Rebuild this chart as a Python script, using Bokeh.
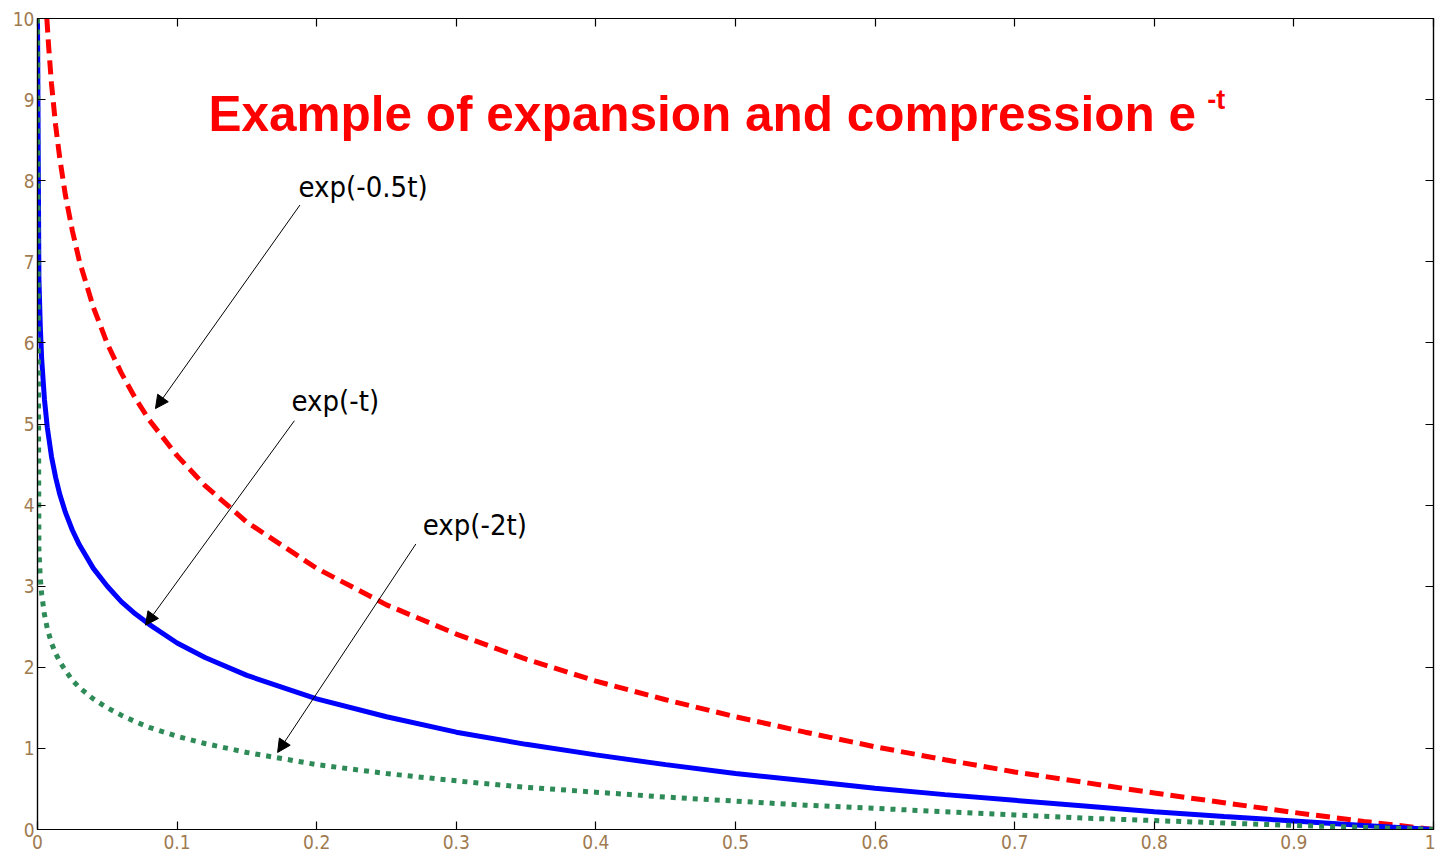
from bokeh.plotting import figure
from bokeh.models import LinearAxis, Range1d, FixedTicker, Arrow, NormalHead, CustomJSTickFormatter
from bokeh.core.properties import value
from bokeh.embed import file_html
from bokeh.resources import INLINE

# ---- data ----
x_red = [0.0067, 0.008, 0.01, 0.013, 0.016, 0.02, 0.025, 0.03, 0.04, 0.05, 0.06, 0.07, 0.08,
         0.1, 0.12, 0.15, 0.2, 0.25, 0.3, 0.35, 0.4, 0.45, 0.5, 0.55, 0.6, 0.65, 0.7, 0.75,
         0.8, 0.85, 0.9, 0.95, 1.0]
y_red = [10.0, 9.65, 9.2, 8.68, 8.27, 7.82, 7.38, 7.01, 6.44, 5.99, 5.63, 5.32, 5.05,
         4.61, 4.24, 3.79, 3.22, 2.77, 2.41, 2.10, 1.83, 1.60, 1.39, 1.20, 1.02, 0.86,
         0.71, 0.58, 0.45, 0.33, 0.21, 0.10, 0.0]

x_blue = [0.0, 0.001, 0.002, 0.003, 0.005, 0.007, 0.01, 0.013, 0.016, 0.02, 0.025, 0.03, 0.04,
          0.05, 0.06, 0.07, 0.08, 0.1, 0.12, 0.15, 0.2, 0.25, 0.3, 0.35, 0.4, 0.45, 0.5,
          0.55, 0.6, 0.65, 0.7, 0.75, 0.8, 0.85, 0.9, 0.95, 1.0]
y_blue = [10.0, 6.8, 6.2, 5.8, 5.3, 4.96, 4.6, 4.34, 4.13, 3.91, 3.69, 3.51, 3.22,
          3.0, 2.81, 2.66, 2.53, 2.30, 2.12, 1.90, 1.61, 1.39, 1.20, 1.05, 0.92, 0.80, 0.69,
          0.60, 0.51, 0.43, 0.36, 0.29, 0.22, 0.16, 0.105, 0.05, 0.0]

x_green = x_blue
y_green = [10.0, 3.45, 3.1, 2.9, 2.65, 2.48, 2.3, 2.17, 2.07, 1.96, 1.84, 1.75, 1.61,
           1.5, 1.41, 1.33, 1.26, 1.15, 1.06, 0.95, 0.80, 0.69, 0.60, 0.52, 0.46, 0.40, 0.35,
           0.30, 0.26, 0.22, 0.18, 0.14, 0.11, 0.08, 0.05, 0.026, 0.0]

x_ticks = [0, 0.1, 0.2, 0.3, 0.4, 0.5, 0.6, 0.7, 0.8, 0.9, 1]
x_tick_labels = ["0", "0.1", "0.2", "0.3", "0.4", "0.5", "0.6", "0.7", "0.8", "0.9", "1"]
y_ticks = [0, 1, 2, 3, 4, 5, 6, 7, 8, 9, 10]

title_text = "Example of expansion and compression e"
title_sup = "-t"
labels = ["exp(-0.5t)", "exp(-t)", "exp(-2t)"]
label_x = [0.187, 0.182, 0.276]
label_y = [7.92, 5.28, 3.75]
arrow_x0 = [0.188, 0.184, 0.271]
arrow_y0 = [7.7, 5.04, 3.52]
arrow_x1 = [0.0845, 0.0774, 0.172]
arrow_y1 = [5.19, 2.52, 0.95]

NARROW = "DejaVu Sans Condensed"

# ---- figure ----
p = figure(width=1435, height=856, output_backend="svg", toolbar_location=None,
           x_range=Range1d(0, 1), y_range=Range1d(0, 10),
           x_axis_location=None, y_axis_location=None,
           min_border_left=37, min_border_right=2, min_border_top=18, min_border_bottom=27)
p.background_fill_color = "white"
p.border_fill_color = "white"
p.outline_line_color = "black"
p.outline_line_width = 1.2
p.xgrid.visible = False
p.ygrid.visible = False

tick_color = "#a07a50"

def styl(ax, show_labels):
    ax.axis_line_color = "black"
    ax.axis_line_width = 1.2
    ax.major_tick_in = 8
    ax.major_tick_out = 0
    ax.major_tick_line_color = "black"
    ax.major_tick_line_width = 1.2
    ax.minor_tick_line_color = None
    ax.major_label_text_font = NARROW
    ax.major_label_text_font_size = "19px" if show_labels else "0px"
    ax.major_label_text_color = tick_color
    if not show_labels:
        ax.major_label_text_alpha = 0

xb = LinearAxis(ticker=FixedTicker(ticks=x_ticks),
                major_label_overrides={t: l for t, l in zip(x_ticks, x_tick_labels)})
styl(xb, True)
xb.major_label_standoff = 5
p.add_layout(xb, "below")

yl = LinearAxis(ticker=FixedTicker(ticks=y_ticks))
styl(yl, True)
yl.major_label_standoff = 3
p.add_layout(yl, "left")

xt = LinearAxis(ticker=FixedTicker(ticks=x_ticks),
                formatter=CustomJSTickFormatter(code="return ''"))
styl(xt, False)
p.add_layout(xt, "above")

yr = LinearAxis(ticker=FixedTicker(ticks=y_ticks),
                formatter=CustomJSTickFormatter(code="return ''"))
styl(yr, False)
p.add_layout(yr, "right")

# curves
p.line(x_red, y_red, line_color="red", line_width=5, line_dash="14 7")
p.line(x_blue, y_blue, line_color="blue", line_width=5)
p.line(x_green, y_green, line_color="#2e8b57", line_width=5, line_dash="5 6")

# title
p.text(x=[0.1225], y=[8.83], text=[title_text], text_color="red",
       text_font=value("Liberation Sans"), text_font_style="bold",
       text_font_size="49.5px", text_baseline="alphabetic", text_align="left")
p.text(x=[0.838], y=[9.0], text=[title_sup], text_color="red",
       text_font=value("Liberation Sans"), text_font_style="bold",
       text_font_size="27px", text_baseline="alphabetic", text_align="left")

# labels
p.text(x=label_x, y=label_y, text=labels, text_color="black",
       text_font=value(NARROW), text_font_size="29px",
       text_baseline="middle", text_align="left")

for x0, y0, x1, y1 in zip(arrow_x0, arrow_y0, arrow_x1, arrow_y1):
    p.add_layout(Arrow(end=NormalHead(size=13, fill_color="black", line_color="black", line_width=1),
                       x_start=x0, y_start=y0, x_end=x1, y_end=y1,
                       line_color="black", line_width=1))

open("out.html", "w").write(file_html(p, INLINE))
